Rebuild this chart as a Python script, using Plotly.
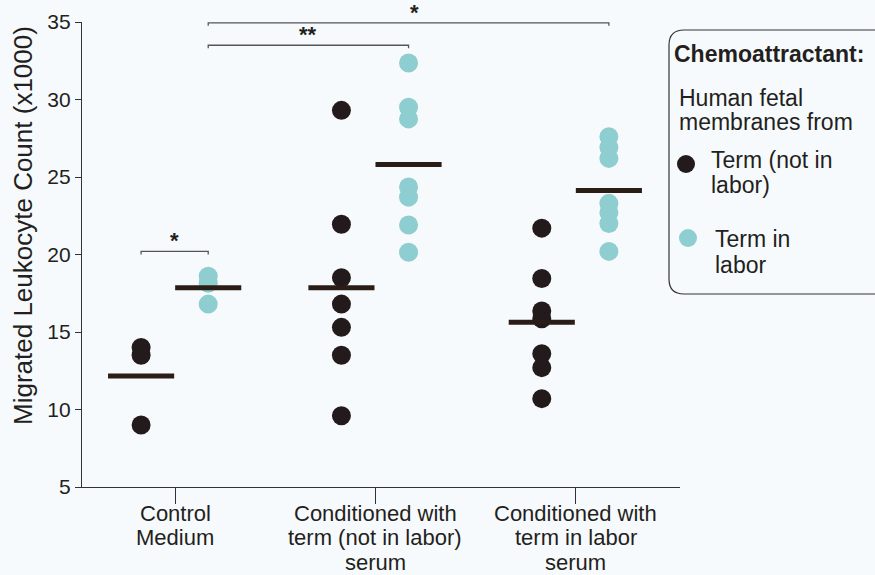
import numpy as np
import plotly.graph_objects as go

# Categories (one list entry per label line) and their x positions
categories = [
    ["Control", "Medium"],
    ["Conditioned with", "term (not in labor)", "serum"],
    ["Conditioned with", "term in labor", "serum"],
]
positions = [1, 2, 3]
y_ticks = [5, 10, 15, 20, 25, 30, 35]
y_title = "Migrated Leukocyte Count (x1000)"

# Migrated leukocyte counts (x1000) per chemoattractant source
term_not_in_labor = [
    [14.0, 13.5, 9.0],
    [29.3, 21.95, 18.5, 16.8, 15.3, 13.5, 9.6],
    [21.7, 18.45, 16.35, 15.85, 13.6, 12.7, 10.7],
]
term_in_labor = [
    [18.6, 18.15, 16.8],
    [32.35, 29.5, 28.75, 24.35, 23.7, 21.9, 20.15],
    [27.6, 26.9, 26.2, 23.3, 22.7, 22.0, 20.2],
]

# Significance comparisons: (x start, x end, bracket level, label)
comparisons = [
    (1 - 0.17, 1 + 0.165, 20.2, "*"),
    (1 + 0.165, 2 + 0.165, 33.5, "**"),
    (1 + 0.165, 3 + 0.165, 34.95, "*"),
]

BLACK = "#231a1c"
TEAL = "#8ecdd0"
LINE = "#2a1d16"
TEXT = "#231f20"
AXIS = "#333333"
BG = "#f7fafc"
FONT = "Liberation Sans, Arial, sans-serif"

OFF_A, OFF_B = -0.17, 0.165
HALF = 0.165
Y0, Y1 = 5, 35

W, H = 875, 575
ML, MR, MT, MB = 82, 195, 22, 88
PW, PH = W - ML - MR, H - MT - MB


def px(x):
    return (x - ML) / PW


def py(y):
    return (H - MB - y) / PH


def yv(v):
    return (v - Y0) / (Y1 - Y0)


fig = go.Figure()

for series, off, color in [(term_not_in_labor, OFF_A, BLACK), (term_in_labor, OFF_B, TEAL)]:
    for pos, vals in zip(positions, series):
        fig.add_trace(go.Scatter(
            x=[pos + off] * len(vals), y=vals, mode="markers",
            marker=dict(size=19, color=color, line=dict(width=0)),
            showlegend=False, hoverinfo="y",
        ))

for series, off in [(term_not_in_labor, OFF_A), (term_in_labor, OFF_B)]:
    for pos, vals in zip(positions, series):
        m = float(np.mean(vals))
        fig.add_trace(go.Scatter(
            x=[pos + off - HALF, pos + off + HALF], y=[m, m], mode="lines",
            line=dict(color=LINE, width=5), showlegend=False, hoverinfo="skip",
        ))

shapes = []
annotations = []

# Significance brackets with their star labels
tick = 3 / PH
for x0, x1, lvl, lab in comparisons:
    yb = yv(lvl)
    shapes.append(dict(
        type="path", xref="x", yref="paper",
        path=f"M {x0},{yb - tick} L {x0},{yb} L {x1},{yb} L {x1},{yb - tick}",
        line=dict(color="#555555", width=1.3),
    ))
    annotations.append(dict(
        x=(x0 + x1) / 2 + (0.03 if lab == "*" and x1 > 3 else 0), y=yb, xref="x", yref="paper",
        text=f"<b>{lab}</b>", showarrow=False, xanchor="center", yanchor="bottom",
        yshift=-4, font=dict(size=22, color=TEXT, family=FONT),
    ))

# Category labels, one line at a time for tight leading
line_y = [513.3, 537.9, 562.5]
for pos, lines in zip(positions, categories):
    for ly, t in zip(line_y, lines):
        annotations.append(dict(
            x=pos, y=py(ly), xref="x", yref="paper", text=t, showarrow=False,
            xanchor="center", yanchor="middle", borderpad=0,
            font=dict(size=22, color=TEXT, family=FONT),
        ))

# Y axis title
annotations.append(dict(
    x=px(23), y=py(226), xref="paper", yref="paper", text=y_title, showarrow=False,
    textangle=-90, xanchor="center", yanchor="middle",
    font=dict(size=26, color=TEXT, family=FONT),
))

# Legend box with rounded corners
bl, br, bt, bb, r = 669, 892, 30, 294, 15
rx, ry = r / PW, r / PH
L_, R_, T_, B_ = px(bl), px(br), py(bt), py(bb)
path = (f"M {L_ + rx},{T_} L {R_ - rx},{T_} Q {R_},{T_} {R_},{T_ - ry} "
        f"L {R_},{B_ + ry} Q {R_},{B_} {R_ - rx},{B_} L {L_ + rx},{B_} "
        f"Q {L_},{B_} {L_},{B_ + ry} L {L_},{T_ - ry} Q {L_},{T_} {L_ + rx},{T_} Z")
shapes.append(dict(type="path", xref="paper", yref="paper", path=path,
                   line=dict(color=AXIS, width=1.2), fillcolor="rgba(0,0,0,0)"))

for cx, cy, col in [(686, 164, BLACK), (688, 238, TEAL)]:
    shapes.append(dict(
        type="circle", xref="paper", yref="paper", xsizemode="pixel", ysizemode="pixel",
        xanchor=px(cx), yanchor=py(cy), x0=-9, x1=9, y0=-9, y1=9,
        fillcolor=col, line=dict(width=0),
    ))

legend_text = [
    (673, 54, "<b>Chemoattractant:</b>"),
    (678, 98, "Human fetal"),
    (678, 122, "membranes from"),
    (710, 160, "Term (not in"),
    (710, 185, "labor)"),
    (714, 239, "Term in"),
    (714, 265, "labor"),
]
for x, y, t in legend_text:
    annotations.append(dict(
        x=px(x), y=py(y), xref="paper", yref="paper", text=t, showarrow=False,
        xanchor="left", yanchor="middle", borderpad=0,
        font=dict(size=23, color=TEXT, family=FONT),
    ))

fig.update_layout(
    width=W, height=H,
    margin=dict(l=ML, r=MR, t=MT, b=MB),
    paper_bgcolor=BG, plot_bgcolor=BG,
    font=dict(family=FONT, color=TEXT),
    shapes=shapes, annotations=annotations,
    showlegend=False,
)
fig.update_xaxes(
    range=[0.535, 3.52], tickvals=positions, showticklabels=False,
    showgrid=False, zeroline=False, automargin=False,
    showline=True, linecolor=AXIS, linewidth=1.3,
    ticks="outside", ticklen=16, tickwidth=1.3, tickcolor=AXIS,
)
fig.update_yaxes(
    range=[Y0, Y1], tickvals=y_ticks,
    showgrid=False, zeroline=False, automargin=False,
    showline=True, linecolor=AXIS, linewidth=1.3,
    ticks="outside", ticklen=6, tickwidth=1.3, tickcolor=AXIS,
    tickfont=dict(size=21, color=TEXT, family=FONT),
)

fig.write_html("out.html")
